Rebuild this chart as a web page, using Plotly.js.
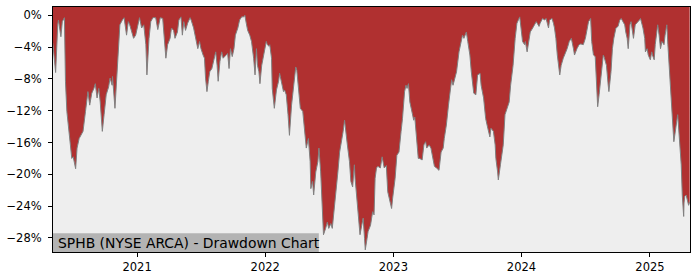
<!DOCTYPE html>
<html>
<head>
<meta charset="utf-8">
<script src="https://cdn.plot.ly/plotly-3.0.1.min.js"></script>
<style>html,body{margin:0;padding:0;background:#fff;}#chart{width:700px;height:280px;}</style>
</head>
<body>
<div id="chart"></div>
<script>
const dates = [
"2020-05-06","2020-05-07","2020-05-14","2020-05-20","2020-05-22","2020-05-29","2020-06-02","2020-06-08","2020-06-11","2020-06-15",
"2020-06-19","2020-06-25","2020-06-29","2020-07-03","2020-07-10","2020-07-14","2020-07-20","2020-07-27","2020-07-31","2020-08-07",
"2020-08-14","2020-08-19","2020-08-25","2020-08-31","2020-09-04","2020-09-09","2020-09-14","2020-09-18","2020-09-24","2020-09-29",
"2020-10-05","2020-10-12","2020-10-16","2020-10-22","2020-10-23","2020-10-30","2020-11-03","2020-11-09","2020-11-13","2020-11-20",
"2020-11-25","2020-12-02","2020-12-07","2020-12-11","2020-12-17","2020-12-22","2020-12-28","2021-01-04","2021-01-08","2021-01-14",
"2021-01-20","2021-01-26","2021-01-29","2021-02-04","2021-02-09","2021-02-15","2021-02-23","2021-03-01","2021-03-08","2021-03-15",
"2021-03-19","2021-03-24","2021-03-29","2021-04-05","2021-04-09","2021-04-15","2021-04-19","2021-04-26","2021-04-30","2021-05-06",
"2021-05-10","2021-05-14","2021-05-19","2021-05-25","2021-06-01","2021-06-04","2021-06-11","2021-06-18","2021-06-23","2021-06-28",
"2021-07-02","2021-07-08","2021-07-12","2021-07-15","2021-07-19","2021-07-23","2021-07-27","2021-08-02","2021-08-06","2021-08-13",
"2021-08-17","2021-08-20","2021-08-25","2021-08-30","2021-09-03","2021-09-10","2021-09-16","2021-09-20","2021-09-24","2021-09-29",
"2021-10-04","2021-10-08","2021-10-15","2021-10-20","2021-10-26","2021-11-01","2021-11-04","2021-11-08","2021-11-12","2021-11-18",
"2021-11-23","2021-11-29","2021-12-03","2021-12-07","2021-12-10","2021-12-14","2021-12-17","2021-12-22","2021-12-27","2021-12-30",
"2022-01-04","2022-01-07","2022-01-12","2022-01-14","2022-01-19","2022-01-21","2022-01-27","2022-02-02","2022-02-08","2022-02-11",
"2022-02-15","2022-02-22","2022-02-25","2022-03-02","2022-03-07","2022-03-11","2022-03-17","2022-03-23","2022-03-29","2022-04-01",
"2022-04-06","2022-04-11","2022-04-18","2022-04-22","2022-04-28","2022-05-04","2022-05-09","2022-05-11","2022-05-16","2022-05-19",
"2022-05-25","2022-05-31","2022-06-03","2022-06-08","2022-06-13","2022-06-16","2022-06-22","2022-06-27","2022-07-01","2022-07-07",
"2022-07-11","2022-07-18","2022-07-21","2022-07-27","2022-08-01","2022-08-05","2022-08-11","2022-08-15","2022-08-18","2022-08-23",
"2022-08-29","2022-09-02","2022-09-07","2022-09-12","2022-09-14","2022-09-19","2022-09-23","2022-09-28","2022-10-03","2022-10-07",
"2022-10-11","2022-10-13","2022-10-18","2022-10-21","2022-10-28","2022-10-31","2022-11-03","2022-11-07","2022-11-10","2022-11-14",
"2022-11-18","2022-11-25","2022-11-30","2022-12-06","2022-12-12","2022-12-16","2022-12-22","2022-12-27","2022-12-30","2023-01-06",
"2023-01-11","2023-01-17","2023-01-23","2023-01-27","2023-02-02","2023-02-06","2023-02-09","2023-02-13","2023-02-17","2023-02-24",
"2023-02-28","2023-03-03","2023-03-08","2023-03-13","2023-03-17","2023-03-24","2023-03-29","2023-04-03","2023-04-06","2023-04-13",
"2023-04-18","2023-04-24","2023-04-28","2023-05-04","2023-05-11","2023-05-17","2023-05-23","2023-05-26","2023-06-01","2023-06-07",
"2023-06-13","2023-06-16","2023-06-20","2023-06-26","2023-06-30","2023-07-07","2023-07-13","2023-07-17","2023-07-21","2023-07-24",
"2023-07-28","2023-08-01","2023-08-07","2023-08-11","2023-08-18","2023-08-24","2023-08-29","2023-09-05","2023-09-08","2023-09-15",
"2023-09-21","2023-09-27","2023-10-03","2023-10-06","2023-10-13","2023-10-18","2023-10-20","2023-10-25","2023-10-27","2023-11-02",
"2023-11-06","2023-11-10","2023-11-15","2023-11-21","2023-11-27","2023-12-01","2023-12-08","2023-12-14","2023-12-19","2023-12-27",
"2023-12-29","2024-01-04","2024-01-10","2024-01-12","2024-01-17","2024-01-22","2024-01-26","2024-02-02","2024-02-07","2024-02-12",
"2024-02-20","2024-02-23","2024-03-01","2024-03-07","2024-03-11","2024-03-14","2024-03-18","2024-03-21","2024-03-28","2024-04-01",
"2024-04-04","2024-04-08","2024-04-12","2024-04-19","2024-04-23","2024-04-29","2024-05-03","2024-05-10","2024-05-16","2024-05-22",
"2024-05-28","2024-05-31","2024-06-07","2024-06-13","2024-06-18","2024-06-25","2024-07-01","2024-07-05","2024-07-10","2024-07-16",
"2024-07-17","2024-07-19","2024-07-24","2024-07-29","2024-08-01","2024-08-05","2024-08-09","2024-08-15","2024-08-21","2024-08-23",
"2024-08-30","2024-09-04","2024-09-06","2024-09-12","2024-09-16","2024-09-20","2024-09-26","2024-10-02","2024-10-07","2024-10-11",
"2024-10-17","2024-10-21","2024-10-24","2024-10-28","2024-10-31","2024-11-05","2024-11-08","2024-11-12","2024-11-15","2024-11-20",
"2024-11-25","2024-12-02","2024-12-05","2024-12-09","2024-12-12","2024-12-17","2024-12-19","2024-12-24","2024-12-27","2025-01-02",
"2025-01-06","2025-01-08","2025-01-13","2025-01-16","2025-01-21","2025-01-23","2025-01-27","2025-01-31","2025-02-04","2025-02-10",
"2025-02-13","2025-02-18","2025-02-21","2025-02-25","2025-02-28","2025-03-04","2025-03-07","2025-03-10","2025-03-14","2025-03-18",
"2025-03-21","2025-03-26","2025-03-31","2025-04-03","2025-04-04","2025-04-07","2025-04-08","2025-04-10","2025-04-14","2025-04-17",
"2025-04-21","2025-04-24"
];
const drawdown = [
-3.5,-3.9,-7.2,-1.2,-0.6,-2.7,-0.8,-0.3,-8.3,-12.1,
-14.2,-16.3,-18.0,-17.8,-19.3,-16.7,-15.5,-14.8,-14.6,-12.1,
-9.6,-11.3,-9.8,-9.2,-8.6,-10.4,-9.2,-10.9,-14.6,-12.5,
-10.0,-9.0,-7.9,-8.8,-7.7,-11.7,-8.3,-3.3,-1.2,-0.6,
-0.3,-2.5,-0.8,-1.2,-2.1,-2.9,-2.5,-1.2,-0.3,-1.6,
-1.2,-3.7,-7.5,-2.9,-0.8,-0.3,-0.3,-1.8,-0.3,-0.4,
-2.5,-5.4,-3.7,-2.9,-1.6,-1.9,-2.9,-2.1,-0.6,-0.2,
-2.5,-0.8,-1.9,-1.0,-0.3,-0.6,-1.6,-2.9,-4.2,-3.3,
-4.2,-5.0,-5.4,-7.9,-9.6,-8.3,-7.1,-6.7,-5.8,-4.6,
-6.3,-8.3,-5.8,-4.6,-5.4,-5.0,-4.8,-6.7,-4.2,-5.2,
-4.2,-2.5,-1.6,-0.6,-0.2,-0.2,0.0,-1.0,-1.9,-2.5,
-3.3,-5.4,-7.5,-4.2,-6.3,-7.1,-8.6,-6.3,-5.0,-4.4,
-3.3,-3.7,-3.9,-3.7,-5.4,-9.2,-11.7,-9.4,-8.3,-7.3,
-8.3,-9.6,-9.4,-10.0,-12.5,-15.1,-11.3,-8.8,-6.5,-6.9,
-9.6,-11.7,-12.1,-14.2,-16.7,-15.5,-18.4,-21.8,-20.9,-22.6,
-19.7,-18.4,-16.7,-19.7,-23.9,-27.6,-26.8,-26.0,-26.8,-26.2,
-26.8,-23.9,-22.2,-19.7,-17.2,-16.3,-14.6,-13.2,-14.6,-16.3,
-18.4,-20.9,-21.6,-18.8,-20.5,-23.0,-25.5,-27.6,-26.4,-25.5,
-28.1,-29.5,-28.1,-27.2,-26.4,-25.5,-24.7,-25.1,-20.5,-19.2,
-19.0,-19.2,-17.8,-19.2,-18.9,-22.2,-23.4,-24.3,-23.0,-20.5,
-17.6,-17.2,-14.6,-13.0,-9.6,-8.8,-9.2,-8.6,-10.9,-12.5,
-13.2,-12.8,-15.5,-18.0,-18.0,-18.2,-16.3,-15.9,-16.7,-16.3,
-16.7,-18.4,-19.0,-19.2,-19.5,-17.2,-16.7,-15.5,-13.8,-11.3,
-9.2,-8.1,-8.8,-7.5,-7.1,-4.6,-3.3,-2.5,-2.9,-2.5,
-2.1,-3.3,-5.0,-7.1,-9.8,-10.0,-7.5,-7.3,-8.8,-10.4,
-13.0,-14.2,-15.3,-14.2,-14.6,-16.3,-18.0,-19.7,-20.7,-18.8,
-17.2,-16.3,-12.5,-11.7,-10.9,-8.8,-6.3,-2.9,-1.0,-0.2,
-1.2,-3.3,-3.7,-3.3,-4.6,-2.9,-2.1,-1.6,-1.2,-0.8,
-1.4,-1.0,-0.4,-0.6,-0.4,-1.0,-1.6,-0.6,-0.4,-1.0,
-1.6,-2.9,-5.0,-7.5,-6.3,-5.4,-5.0,-4.2,-3.3,-2.9,
-4.2,-5.0,-4.2,-3.7,-3.6,-3.7,-2.9,-2.1,-0.8,-0.4,
-2.7,-3.3,-5.0,-5.2,-7.9,-11.5,-10.0,-7.1,-5.0,-5.2,
-6.3,-8.8,-9.6,-7.1,-4.2,-2.9,-1.6,-1.4,-0.6,-0.4,
-0.8,-1.2,-2.1,-2.9,-4.2,-1.2,-0.8,-1.9,-2.9,-1.2,
-1.0,-0.6,-0.4,-1.0,-1.6,-2.9,-4.6,-4.2,-5.0,-5.6,
-4.6,-5.0,-5.6,-3.7,-2.1,-1.2,-2.5,-4.2,-3.3,-3.7,
-2.5,-1.2,-3.7,-7.1,-9.6,-12.1,-13.8,-15.9,-14.2,-13.4,
-12.5,-15.5,-18.8,-22.6,-23.5,-25.3,-23.6,-22.8,-22.6,-23.4,
-23.9,-23.5
];
const yTickVals = [0,-4,-8,-12,-16,-20,-24,-28];
const yTickText = ["0%","\u22124%","\u22128%","\u221212%","\u221216%","\u221220%","\u221224%","\u221228%"];
const xTickVals = ["2021-01-01","2022-01-01","2023-01-01","2024-01-01","2025-01-01"];
const xTickText = ["2021","2022","2023","2024","2025"];
const chartLabel = "SPHB (NYSE ARCA) - Drawdown Chart";

const yTop = 1.04, yBottom = -29.77;
const ceiling = dates.map(() => yTop + 5);

const traces = [
  {x: dates, y: ceiling, type: 'scatter', mode: 'lines', line: {width: 0, color: 'rgba(0,0,0,0)'}, hoverinfo: 'skip', showlegend: false},
  {x: dates, y: drawdown, type: 'scatter', mode: 'lines', fill: 'tonexty', fillcolor: '#b03030',
   line: {color: '#808080', width: 1}, showlegend: false}
];

const font = {family: 'DejaVu Sans, sans-serif', size: 11.5, color: '#000'};
const layout = {
  width: 700, height: 280,
  margin: {l: 53, r: 10, t: 7, b: 28, pad: 0},
  paper_bgcolor: '#ffffff', plot_bgcolor: '#eeeeee',
  showlegend: false,
  font: font,
  xaxis: {type: 'date', range: ['2020-05-06 12:00', '2025-04-25'], tickmode: 'array', tickvals: xTickVals, ticktext: xTickText,
          ticks: 'outside', ticklen: 4, tickwidth: 1, tickcolor: '#000', showline: true, linecolor: '#000', linewidth: 1, mirror: true,
          showgrid: false, zeroline: false, tickfont: font},
  yaxis: {range: [yBottom, yTop], tickmode: 'array', tickvals: yTickVals, ticktext: yTickText,
          ticks: 'outside', ticklen: 4, tickwidth: 1, tickcolor: '#000', showline: true, linecolor: '#000', linewidth: 1, mirror: true,
          showgrid: false, zeroline: false, tickfont: font, ticklabelstandoff: 4},
  shapes: [{type: 'rect', xref: 'paper', yref: 'paper', x0: 0, x1: 0.4173, y0: 0, y1: 0.0763, fillcolor: '#b3b3b3', line: {width: 0}, layer: 'above'}],
  annotations: [{text: chartLabel, xref: 'paper', yref: 'paper', x: 0, y: 0.038, xanchor: 'left', yanchor: 'middle', xshift: 3, showarrow: false,
                 font: {family: 'DejaVu Sans, sans-serif', size: 13.9, color: '#000'}}]
};
Plotly.newPlot('chart', traces, layout, {displayModeBar: false, staticPlot: true});
</script>
</body>
</html>
